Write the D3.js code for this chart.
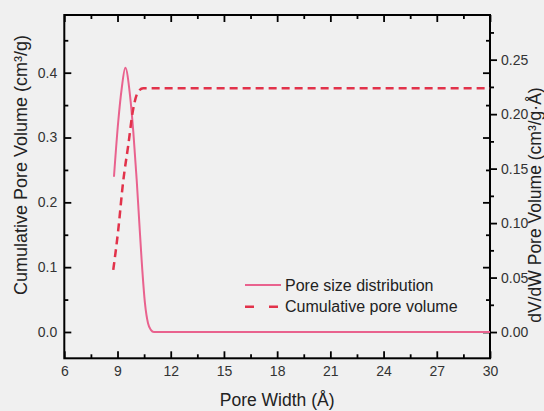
<!DOCTYPE html>
<html>
<head>
<meta charset="utf-8">
<script src="https://cdn.jsdelivr.net/npm/d3@7"></script>
<style>
  html, body { margin: 0; padding: 0; background: #f0f0f0; }
  svg { display: block; font-family: "Liberation Sans", Arial, sans-serif; }
  .axis text { fill: #333; font-size: 14px; }
  .axis line { stroke: #000; stroke-width: 1.8; }
  .axis path { display: none; }
</style>
</head>
<body>
<svg id="chart"></svg>
<script>
// pore size distribution (dV/dW, right axis)
const psdX = [8.80, 9.04, 9.24, 9.44, 9.70, 9.89, 10.08, 10.23, 10.36, 10.55, 10.72, 10.88, 11.05, 30]
const psdY = [0.1425, 0.193, 0.224, 0.2426, 0.218, 0.184, 0.140, 0.100, 0.066, 0.026, 0.008, 0.002, 0, 0]
// cumulative pore volume (left axis)
const cumX = [8.76, 9.04, 9.31, 9.61, 9.86, 10.17, 10.45, 30]
const cumY = [0.0957, 0.157, 0.230, 0.289, 0.340, 0.371, 0.376, 0.376]

const xTicks = [6, 9, 12, 15, 18, 21, 24, 27, 30]
const leftTicks = [0, 0.1, 0.2, 0.3, 0.4]
const rightTicks = [0, 0.05, 0.1, 0.15, 0.2, 0.25]
const legendLabels = ["Pore size distribution", "Cumulative pore volume"]

const W = 544, H = 411
const box = { l: 64.3, r: 490, t: 15, b: 358.3 }
const pink = "#e9628e", red = "#e2324a"

const svg = d3.select("#chart").attr("width", W).attr("height", H)

let x = d3.scaleLinear().domain([6, 30]).range([box.l, box.r])
let yL = d3.scaleLinear().domain([-0.0406, 0.489]).range([box.b, box.t])
let yR = d3.scaleLinear().domain([-0.0241, 0.291]).range([box.b, box.t])

const mids = a => a.slice(1).map((v, i) => (v + a[i]) / 2)
const xMinor = mids(xTicks)
const leftMinor = mids(leftTicks).concat([0.45])
const rightMinor = mids(rightTicks).concat([0.275])

// bottom + top
svg.append("g").attr("class", "axis").attr("transform", `translate(0,${box.b})`)
  .call(d3.axisBottom(x).tickValues(xTicks).tickSize(-7).tickPadding(8).tickFormat(d3.format("d")))
svg.append("g").attr("class", "axis").attr("transform", `translate(0,${box.b})`)
  .call(d3.axisBottom(x).tickValues(xMinor).tickSize(-4).tickFormat(""))
svg.append("g").attr("class", "axis").attr("transform", `translate(0,${box.t})`)
  .call(d3.axisTop(x).tickValues(xTicks).tickSize(-7).tickFormat(""))
svg.append("g").attr("class", "axis").attr("transform", `translate(0,${box.t})`)
  .call(d3.axisTop(x).tickValues(xMinor).tickSize(-4).tickFormat(""))

// left
svg.append("g").attr("class", "axis").attr("transform", `translate(${box.l},0)`)
  .call(d3.axisLeft(yL).tickValues(leftTicks).tickSize(-7).tickPadding(7).tickFormat(d3.format(".1f")))
svg.append("g").attr("class", "axis").attr("transform", `translate(${box.l},0)`)
  .call(d3.axisLeft(yL).tickValues(leftMinor).tickSize(-4).tickFormat(""))

// right: mirrored left ticks inside, own ticks outside
svg.append("g").attr("class", "axis").attr("transform", `translate(${box.r},0)`)
  .call(d3.axisRight(yL).tickValues(leftTicks).tickSize(-7).tickFormat(""))
svg.append("g").attr("class", "axis").attr("transform", `translate(${box.r},0)`)
  .call(d3.axisRight(yL).tickValues(leftMinor).tickSize(-4).tickFormat(""))
svg.append("g").attr("class", "axis").attr("transform", `translate(${box.r},0)`)
  .call(d3.axisRight(yR).tickValues(rightTicks).tickSize(7).tickPadding(4).tickFormat(d3.format(".2f")))
svg.append("g").attr("class", "axis").attr("transform", `translate(${box.r},0)`)
  .call(d3.axisRight(yR).tickValues(rightMinor).tickSize(4).tickFormat(""))

svg.append("rect")
  .attr("x", box.l).attr("y", box.t)
  .attr("width", box.r - box.l).attr("height", box.b - box.t)
  .attr("fill", "none").attr("stroke", "#000").attr("stroke-width", 2)

// lines
const psd = psdX.map((v, i) => [v, psdY[i]])
const cum = cumX.map((v, i) => [v, cumY[i]])

svg.append("path").datum(psd)
  .attr("fill", "none").attr("stroke", pink).attr("stroke-width", 2)
  .attr("d", d3.line().x(d => x(d[0])).y(d => yR(d[1])).curve(d3.curveMonotoneX))

svg.append("path").datum(cum)
  .attr("fill", "none").attr("stroke", red).attr("stroke-width", 2.5)
  .attr("stroke-dasharray", "8,5")
  .attr("d", d3.line().x(d => x(d[0])).y(d => yL(d[1])).curve(d3.curveMonotoneX))

// legend
const lg = svg.append("g").attr("transform", "translate(245,285)")
legendLabels.forEach((t, i) => {
  lg.append("line")
    .attr("x1", 0).attr("x2", 36).attr("y1", i * 21.7).attr("y2", i * 21.7)
    .attr("stroke", i ? red : pink).attr("stroke-width", i ? 2.5 : 2)
    .attr("stroke-dasharray", i ? "9,15" : null)
  lg.append("text")
    .attr("x", 40).attr("y", i * 21.7).attr("dy", "0.35em")
    .attr("font-size", 16).attr("fill", "#222").text(t)
})

// titles
svg.append("text")
  .attr("x", (box.l + box.r) / 2).attr("y", 406)
  .attr("text-anchor", "middle").attr("font-size", 17.5).attr("fill", "#222")
  .text("Pore Width (Å)")

svg.append("text")
  .attr("transform", "translate(27,165) rotate(-90)")
  .attr("text-anchor", "middle").attr("font-size", 18).attr("fill", "#222")
  .text("Cumulative Pore Volume (cm³/g)")

svg.append("text")
  .attr("transform", "translate(541,205) rotate(-90)")
  .attr("text-anchor", "middle").attr("font-size", 17.5).attr("fill", "#222")
  .text("dV/dW Pore Volume (cm³/g·Å)")
</script>
</body>
</html>
